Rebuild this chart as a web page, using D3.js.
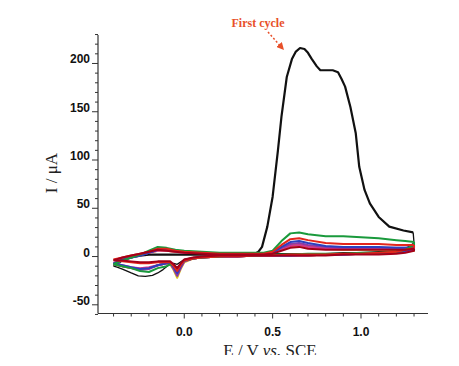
<!DOCTYPE html>
<html>
<head>
<meta charset="utf-8">
<script src="https://cdn.jsdelivr.net/npm/d3@7"></script>
<style>
  body { margin: 0; background: #fff; }
  svg { display: block; }
</style>
</head>
<body>
<div id="chart"></div>
<script>
// potentials (V vs SCE)
const eFirstFwd = [-0.40,-0.35,-0.30,-0.25,-0.20,-0.15,-0.10,0.00,0.10,0.20,0.30,0.40,0.42,0.44,0.47,0.50,0.53,0.55,0.58,0.61,0.63,0.655,0.68,0.70,0.72,0.75,0.77,0.80,0.84,0.87,0.89,0.91,0.94,0.97,0.99,1.02,1.05,1.10,1.16,1.24,1.295]
const iFirstFwd = [-10,-4,-1,1,2,2,2,2,2,2,2,3,5,10,31,62,110,145,186,205,212,216,215,211,205,197,193,193,193,191,184,176,155,128,93,69,55,41,31,27,25]
const eFirstRev = [1.30,1.25,1.20,1.10,1.00,0.90,0.80,0.70,0.60,0.50,0.40,0.30,0.20,0.10,0.05,0.00,-0.04,-0.06,-0.09,-0.12,-0.15,-0.18,-0.22,-0.26,-0.30,-0.35,-0.38,-0.40]
const iFirstRev = [14,8,6,5,4,4,3,3,3,3,2,1,1,0,-1,-3,-8,-7,-9,-13.5,-17,-19.5,-20.5,-20,-17,-13,-11,-10]

const eFwd = [-0.40,-0.35,-0.30,-0.25,-0.20,-0.15,-0.10,-0.05,0.00,0.10,0.20,0.30,0.40,0.45,0.50,0.55,0.60,0.65,0.70,0.80,0.90,1.00,1.10,1.20,1.25,1.30]
const eRev = [1.30,1.25,1.20,1.10,1.00,0.90,0.80,0.70,0.60,0.50,0.40,0.30,0.20,0.10,0.05,0.00,-0.02,-0.04,-0.06,-0.08,-0.10,-0.15,-0.20,-0.25,-0.30,-0.35,-0.40]

// later cycles, current in uA
const yellowFwd = [-8,-3,0,2,4,6,6,5,5,4,3,3,3,3,4,7,10,11,9,8,7,7,7,7,7,7]
const yellowRev = [6,5,4,3,3,2,2,1,1,1,1,0,0,-1,-2,-6,-13,-22,-14,-8,-7,-9,-12,-13,-12,-10,-8]
const orangeFwd = [-8,-3,0,2,5,7,7,6,5,4,3,3,3,3,4,8,12,13,11,9,8,8,8,8,8,8]
const orangeRev = [7,5,4,3,3,2,2,1,1,1,1,0,0,-1,-2,-5,-11,-18,-12,-7,-7,-9,-12,-13,-12,-10,-8]
const magentaFwd = [-7,-3,0,2,4,6,6,5,4,4,3,3,3,3,4,8,11,12,10,8,8,8,8,8,8,8]
const magentaRev = [7,5,4,3,3,2,2,1,1,1,1,0,0,-1,-2,-5,-11,-19,-12,-7,-7,-9,-11,-12,-11,-9,-7]
const purpleFwd = [-8,-4,-1,1,4,7,7,6,5,4,3,3,3,3,4,9,13,14,12,10,9,9,9,9,9,9]
const purpleRev = [8,6,4,3,3,2,2,1,1,1,1,0,0,-1,-2,-5,-12,-20,-13,-7,-7,-9,-13,-14,-12,-10,-8]
const blueFwd = [-7,-3,-1,1,4,7,7,6,5,4,3,3,3,3,4,10,15,16,14,11,10,10,10,9,9,10]
const blueRev = [8,6,4,3,3,2,2,2,1,1,1,0,0,-1,-2,-4,-10,-17,-11,-7,-7,-9,-12,-13,-11,-9,-7]
const greenFwd = [-8,-4,-1,2,6,10,9,7,6,5,4,4,4,4,6,16,24,25,23,21,21,20,19,17,16,15]
const greenRev = [12,7,5,4,4,3,3,3,2,2,1,1,0,-1,-2,-4,-8,-12,-9,-8,-10,-12,-16,-15,-12,-10,-8]
const redFwd = [-3,-1,1,3,5,8,8,6,5,4,3,3,3,3,5,12,18,19,17,14,13,13,13,12,12,12]
const redRev = [9,7,5,4,3,3,2,2,2,1,1,0,0,-1,-2,-4,-9,-15,-10,-6,-6,-6,-7,-7,-6,-5,-3]
const maroonFwd = [-4,-1,1,3,5,7,6,5,4,3,2,2,2,2,3,6,9,10,8,7,7,7,7,7,7,8]
const maroonRev = [6,4,3,2,2,2,1,1,1,1,1,1,1,0,-1,-3,-7,-12,-8,-5,-5,-5,-6,-6,-5,-4,-4]

const xTicks = [0.0, 0.5, 1.0]
const yTicks = [-50, 0, 50, 100, 150, 200]

const cycles = [
  { name: 'first', color: '#111', fw: 2.2, rw: 1.3, fwd: [eFirstFwd, iFirstFwd], rev: [eFirstRev, iFirstRev] },
  { name: 'c8', color: '#d9c21c', fw: 2, rw: 2, fwd: [eFwd, yellowFwd], rev: [eRev, yellowRev] },
  { name: 'c7', color: '#f08a1c', fw: 2, rw: 2, fwd: [eFwd, orangeFwd], rev: [eRev, orangeRev] },
  { name: 'c6', color: '#d6338f', fw: 2, rw: 2, fwd: [eFwd, magentaFwd], rev: [eRev, magentaRev] },
  { name: 'c5', color: '#8a3aa8', fw: 2, rw: 2, fwd: [eFwd, purpleFwd], rev: [eRev, purpleRev] },
  { name: 'c4', color: '#2b3fbf', fw: 2, rw: 2, fwd: [eFwd, blueFwd], rev: [eRev, blueRev] },
  { name: 'c2', color: '#1a9a3c', fw: 2, rw: 2, fwd: [eFwd, greenFwd], rev: [eRev, greenRev] },
  { name: 'c3', color: '#e3261c', fw: 2, rw: 2, fwd: [eFwd, redFwd], rev: [eRev, redRev] },
  { name: 'c9', color: '#a3001a', fw: 2, rw: 2, fwd: [eFwd, maroonFwd], rev: [eRev, maroonRev] }
]

const W = 459, H = 366

const svg = d3.select('#chart')
  .append('svg')
    .attr('width', W)
    .attr('height', H)

const x = d3.scaleLinear().domain([-0.488, 1.379]).range([98, 428])
const y = d3.scaleLinear().domain([-59, 229.5]).range([313.5, 35])

const axisColor = '#333'

// x axis
const xAxis = svg.append('g').attr('transform', `translate(0, ${y.range()[0]})`)
xAxis.append('line')
  .attr('x1', x.range()[0]).attr('x2', x.range()[1])
  .attr('stroke', axisColor).attr('stroke-width', 1.2)
xAxis.selectAll('.minor')
  .data(d3.range(-4, 14).map(d => d / 10))
  .enter().append('line')
    .attr('x1', d => x(d)).attr('x2', d => x(d))
    .attr('y1', 0)
    .attr('y2', d => xTicks.some(t => Math.abs(t - d) < 1e-6) ? 5 : 3)
    .attr('stroke', axisColor).attr('stroke-width', 1)
xAxis.selectAll('.lbl')
  .data(xTicks)
  .enter().append('text')
    .attr('x', d => x(d))
    .attr('y', 22)
    .attr('text-anchor', 'middle')
    .attr('font-family', '"Liberation Sans", Arial, sans-serif')
    .attr('font-weight', 'bold')
    .attr('font-size', 12)
    .attr('fill', '#111')
    .text(d => d.toFixed(1))

// y axis
const yAxis = svg.append('g').attr('transform', `translate(${x.range()[0]}, 0)`)
yAxis.append('line')
  .attr('y1', y.range()[0]).attr('y2', y.range()[1])
  .attr('stroke', axisColor).attr('stroke-width', 1.2)
yAxis.selectAll('.minor')
  .data(d3.range(-6, 24).map(d => d * 10))
  .enter().append('line')
    .attr('y1', d => y(d)).attr('y2', d => y(d))
    .attr('x1', 0)
    .attr('x2', d => yTicks.includes(d) ? -6 : -3)
    .attr('stroke', axisColor).attr('stroke-width', 1)
yAxis.selectAll('.lbl')
  .data(yTicks)
  .enter().append('text')
    .attr('x', -8)
    .attr('y', d => y(d))
    .attr('text-anchor', 'end')
    .attr('font-family', '"Liberation Sans", Arial, sans-serif')
    .attr('font-weight', 'bold')
    .attr('font-size', 12)
    .attr('fill', '#111')
    .text(d => d)

// axis titles
svg.append('text')
  .attr('transform', 'translate(57, 173) rotate(-90)')
  .attr('text-anchor', 'middle')
  .attr('font-family', '"Liberation Serif", "Times New Roman", serif')
  .attr('font-size', 17)
  .attr('fill', '#222')
  .text('I / μA')

svg.append('clipPath').attr('id', 'cut')
  .append('rect').attr('x', 0).attr('y', 0).attr('width', W).attr('height', 355)

const xt = svg.append('text')
  .attr('clip-path', 'url(#cut)')
  .attr('x', 270)
  .attr('y', 356)
  .attr('text-anchor', 'middle')
  .attr('font-family', '"Liberation Serif", "Times New Roman", serif')
  .attr('font-size', 17)
  .attr('fill', '#222')
xt.append('tspan').text('E / V ')
xt.append('tspan').attr('font-style', 'italic').text('vs.')
xt.append('tspan').text(' SCE')

// curves, forward and reverse sweep of each cycle
const line = d3.line()
  .x(d => x(d[0]))
  .y(d => y(d[1]))

cycles.forEach(c => {
  const fwdPts = c.fwd[0].map((e, i) => [e, c.fwd[1][i]])
  const revPts = [fwdPts[fwdPts.length - 1]].concat(c.rev[0].map((e, i) => [e, c.rev[1][i]]))
  const g = svg.append('g').attr('class', c.name)
  g.append('path')
    .datum(revPts)
    .attr('d', line)
    .attr('fill', 'none')
    .attr('stroke', c.color)
    .attr('stroke-width', c.rw)
    .attr('stroke-linejoin', 'round')
  g.append('path')
    .datum(fwdPts)
    .attr('d', line)
    .attr('fill', 'none')
    .attr('stroke', c.color)
    .attr('stroke-width', c.fw)
    .attr('stroke-linejoin', 'round')
})

// annotation
const annColor = '#e8502a'
svg.append('defs').append('marker')
  .attr('id', 'head')
  .attr('viewBox', '0 0 10 10')
  .attr('refX', 8).attr('refY', 5)
  .attr('markerWidth', 5).attr('markerHeight', 5)
  .attr('orient', 'auto')
  .append('path')
    .attr('d', 'M0,0 L10,5 L0,10 z')
    .attr('fill', annColor)

svg.append('text')
  .attr('x', 258)
  .attr('y', 27)
  .attr('text-anchor', 'middle')
  .attr('font-family', '"Liberation Serif", "Times New Roman", serif')
  .attr('font-weight', 'bold')
  .attr('font-size', 12)
  .attr('fill', annColor)
  .text('First cycle')

svg.append('line')
  .attr('x1', 268).attr('y1', 32)
  .attr('x2', 283).attr('y2', 49)
  .attr('stroke', annColor)
  .attr('stroke-width', 1.5)
  .attr('stroke-dasharray', '2,2')
  .attr('marker-end', 'url(#head)')
</script>
</body>
</html>
